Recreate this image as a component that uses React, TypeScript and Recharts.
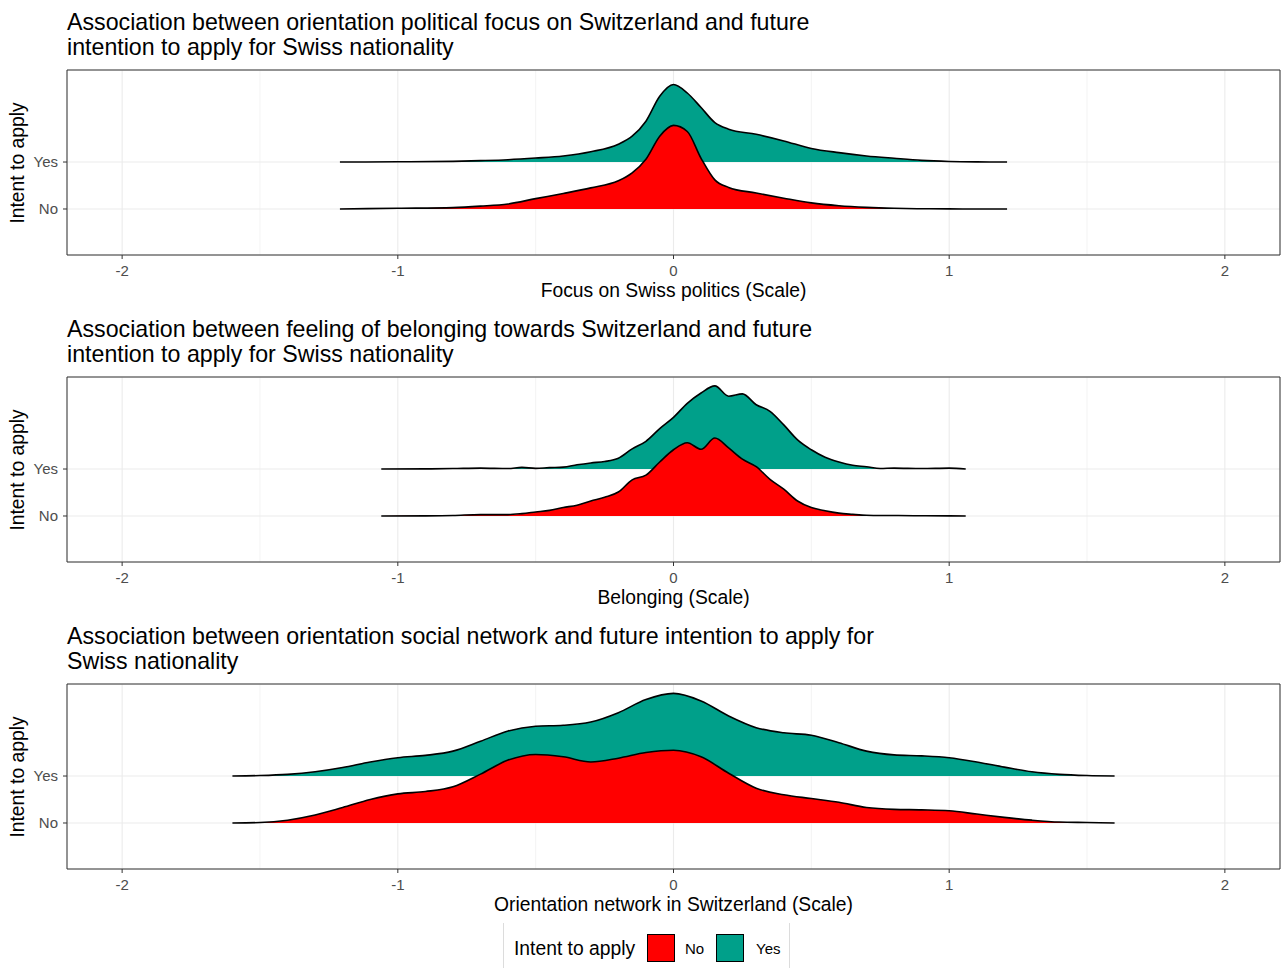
import { Area, AreaChart, CartesianGrid, ReferenceArea, XAxis, YAxis } from "recharts"

const FONT = '"Liberation Sans", Arial, Helvetica, sans-serif'

const RED = "#FF0000"
const TEAL = "#00A08A"

const xTicks = [-2, -1, 0, 1, 2]
const minorTicks = [-1.5, -0.5, 0.5, 1.5]
const groups = ["No", "Yes"]

// panel 1: focus on Swiss politics
const politicsX = [
  -1.21, -1.0, -0.8, -0.7, -0.6, -0.5, -0.4, -0.3, -0.2, -0.15, -0.1, -0.05, 0, 0.05, 0.1, 0.15, 0.2, 0.3, 0.4, 0.5,
  0.6, 0.7, 0.8, 0.9, 1.0, 1.1, 1.21,
]
const politicsYes = [
  0, 0.005, 0.015, 0.03, 0.05, 0.085, 0.13, 0.22, 0.38, 0.55, 0.87, 1.4, 1.65, 1.47, 1.16, 0.84, 0.7, 0.59, 0.45,
  0.29, 0.2, 0.13, 0.08, 0.035, 0.012, 0.003, 0,
]
const politicsNo = [
  0, 0.015, 0.03, 0.06, 0.106, 0.22, 0.33, 0.45, 0.6, 0.77, 1.06, 1.55, 1.78, 1.65, 1.08, 0.62, 0.46, 0.34, 0.23,
  0.13, 0.07, 0.035, 0.015, 0.005, 0.002, 0, 0,
]

// panel 2: belonging
const belongingX = [
  -1.06, -0.9, -0.8, -0.7, -0.6, -0.55, -0.5, -0.45, -0.4, -0.35, -0.3, -0.25, -0.2, -0.15, -0.1, -0.05, 0, 0.05,
  0.1, 0.15, 0.2, 0.25, 0.3, 0.35, 0.4, 0.45, 0.5, 0.55, 0.6, 0.65, 0.7, 0.75, 0.8, 0.9, 1.0, 1.06,
]
const belongingYes = [
  0, 0.003, 0.01, 0.02, 0.01, 0.035, 0.015, 0.03, 0.04, 0.09, 0.13, 0.16, 0.23, 0.43, 0.59, 0.86, 1.1, 1.4, 1.62,
  1.77, 1.55, 1.6, 1.37, 1.23, 0.94, 0.62, 0.41, 0.25, 0.15, 0.08, 0.05, 0.01, 0.02, 0.01, 0.02, 0,
]
const belongingNo = [
  0, 0.003, 0.01, 0.03, 0.03, 0.05, 0.085, 0.12, 0.18, 0.23, 0.32, 0.4, 0.51, 0.77, 0.87, 1.15, 1.41, 1.56, 1.42,
  1.66, 1.45, 1.21, 1.05, 0.78, 0.57, 0.32, 0.18, 0.11, 0.06, 0.035, 0.015, 0.01, 0.01, 0.005, 0.003, 0,
]

// panel 3: social network
const networkX = [
  -1.6, -1.5, -1.4, -1.3, -1.2, -1.1, -1.0, -0.9, -0.8, -0.7, -0.6, -0.5, -0.4, -0.3, -0.2, -0.1, 0, 0.1, 0.2, 0.3,
  0.4, 0.5, 0.6, 0.7, 0.8, 0.9, 1.0, 1.1, 1.2, 1.3, 1.4, 1.5, 1.6,
]
const networkYes = [
  0, 0.01, 0.035, 0.09, 0.18, 0.3, 0.39, 0.44, 0.53, 0.74, 0.96, 1.06, 1.08, 1.15, 1.35, 1.63, 1.76, 1.6, 1.28, 1.03,
  0.92, 0.87, 0.71, 0.53, 0.45, 0.43, 0.39, 0.3, 0.19, 0.09, 0.035, 0.01, 0,
]
const networkNo = [
  0, 0.01, 0.06, 0.17, 0.33, 0.5, 0.62, 0.67, 0.77, 1.04, 1.34, 1.46, 1.41, 1.3, 1.38, 1.5, 1.55, 1.41, 1.06, 0.74,
  0.6, 0.52, 0.44, 0.33, 0.29, 0.28, 0.26, 0.19, 0.12, 0.06, 0.02, 0.01, 0,
]

const panels = [
  {
    title: ["Association between orientation political focus on Switzerland and future", "intention to apply for Swiss nationality"],
    xLabel: "Focus on Swiss politics (Scale)",
    xs: politicsX,
    yes: politicsYes,
    no: politicsNo,
  },
  {
    title: ["Association between feeling of belonging towards Switzerland and future", "intention to apply for Swiss nationality"],
    xLabel: "Belonging (Scale)",
    xs: belongingX,
    yes: belongingYes,
    no: belongingNo,
  },
  {
    title: ["Association between orientation social network and future intention to apply for", "Swiss nationality"],
    xLabel: "Orientation network in Switzerland (Scale)",
    xs: networkX,
    yes: networkYes,
    no: networkNo,
  },
]

type PanelProps = {
  top: number
  title: string[]
  xLabel: string
  xs: number[]
  yes: number[]
  no: number[]
}

function RidgePanel({ top, title, xLabel, xs, yes, no }: PanelProps) {
  // ridges sit on their category line: No = 1, Yes = 2
  const rows = xs.map((x, i) => ({ x, yes: 2 + yes[i], no: 1 + no[i] }))

  return (
    <div style={{ position: "absolute", left: 0, top, width: 1281, height: 307 }}>
      <div
        style={{
          position: "absolute",
          left: 67,
          top: 0,
          fontSize: 23.2,
          lineHeight: "25px",
          color: "#000",
          whiteSpace: "nowrap",
        }}
      >
        {title.map((t) => (
          <div key={t}>{t}</div>
        ))}
      </div>
      <div
        style={{
          position: "absolute",
          left: 18 - 100,
          top: 152.5 - 12,
          width: 200,
          height: 24,
          lineHeight: "24px",
          textAlign: "center",
          fontSize: 19.3,
          transform: "rotate(-90deg)",
        }}
      >
        Intent to apply
      </div>
      <div style={{ position: "absolute", top: 55, left: 0 }}>
        <AreaChart width={1281} height={220} data={rows} margin={{ top: 5, right: 1, bottom: 0, left: 0 }}>
          <CartesianGrid stroke="#ebebeb" strokeWidth={0.6} horizontal={false} verticalValues={minorTicks} />
          <CartesianGrid stroke="#ebebeb" strokeWidth={1.1} />
          <XAxis
            dataKey="x"
            type="number"
            domain={[-2.2, 2.2]}
            allowDataOverflow
            ticks={xTicks}
            interval={0}
            height={30}
            axisLine={false}
            tickSize={4}
            tickMargin={6}
            tickLine={{ stroke: "#333" }}
            tick={{ fill: "#4d4d4d", fontSize: 15 }}
          />
          <YAxis
            type="number"
            domain={[0.02, 3.96]}
            allowDataOverflow
            ticks={[1, 2]}
            interval={0}
            width={67}
            axisLine={false}
            tickSize={4}
            tickMargin={5}
            tickLine={{ stroke: "#333" }}
            tick={{ fill: "#4d4d4d", fontSize: 15 }}
            tickFormatter={(v: number) => groups[v - 1]}
          />
          <Area
            type="monotone"
            dataKey="yes"
            baseValue={2}
            fill={TEAL}
            fillOpacity={1}
            stroke="#000"
            strokeWidth={1.6}
            dot={false}
            activeDot={false}
            isAnimationActive={false}
          />
          <Area
            type="monotone"
            dataKey="no"
            baseValue={1}
            fill={RED}
            fillOpacity={1}
            stroke="#000"
            strokeWidth={1.6}
            dot={false}
            activeDot={false}
            isAnimationActive={false}
          />
          <ReferenceArea
            x1={-2.2}
            x2={2.2}
            y1={0.02}
            y2={3.96}
            fill="none"
            fillOpacity={0}
            stroke="#333"
            strokeWidth={1}
            ifOverflow="visible"
          />
        </AreaChart>
      </div>
      <div
        style={{
          position: "absolute",
          left: 67,
          width: 1213,
          top: 271,
          lineHeight: "20px",
          textAlign: "center",
          fontSize: 19.3,
        }}
      >
        {xLabel}
      </div>
    </div>
  )
}

function Legend() {
  const key = (color: string) => ({
    width: 28,
    height: 28,
    background: color,
    border: "1px solid #000",
    boxSizing: "border-box" as const,
  })
  return (
    <div
      style={{
        position: "absolute",
        left: 503,
        top: 923,
        width: 287,
        height: 60,
        borderLeft: "1px solid #dcdcdc",
        borderRight: "1px solid #dcdcdc",
        boxSizing: "border-box",
      }}
    >
      <div style={{ position: "absolute", left: 10, top: 14, fontSize: 19.3, lineHeight: "24px" }}>Intent to apply</div>
      <div style={{ position: "absolute", left: 143, top: 11, ...key(RED) }} />
      <div style={{ position: "absolute", left: 181, top: 16, fontSize: 15, lineHeight: "20px", color: "#000" }}>No</div>
      <div style={{ position: "absolute", left: 212, top: 11, ...key(TEAL) }} />
      <div style={{ position: "absolute", left: 252, top: 16, fontSize: 15, lineHeight: "20px", color: "#000" }}>Yes</div>
    </div>
  )
}

export default function App() {
  return (
    <div
      style={{
        position: "absolute",
        left: 0,
        top: 0,
        width: 1281,
        height: 968,
        overflow: "hidden",
        background: "#fff",
        fontFamily: FONT,
      }}
    >
      {panels.map((p, i) => (
        <RidgePanel key={p.xLabel} top={10 + i * 307} {...p} />
      ))}
      <Legend />
    </div>
  )
}
